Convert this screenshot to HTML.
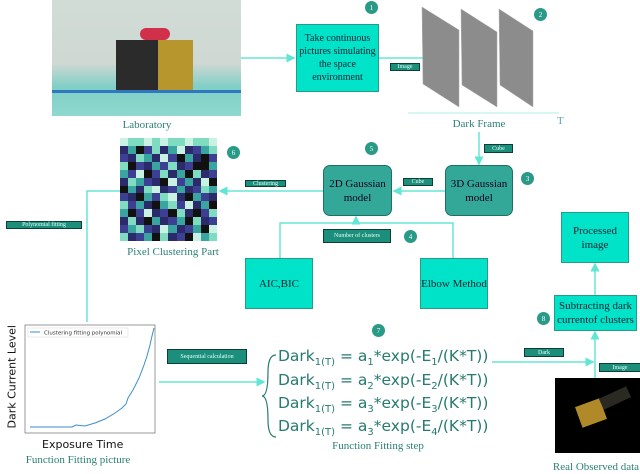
<!DOCTYPE html>
<html><head><meta charset="utf-8"><style>
*{margin:0;padding:0;box-sizing:border-box}
body{width:640px;height:474px;background:#fff;position:relative;overflow:hidden;font-family:"Liberation Serif",serif}
.a{position:absolute}
.box{position:absolute;background:#00e3c9;border:1px solid #2a9a88;color:#123;display:flex;align-items:center;justify-content:center;text-align:center;font-size:11px;line-height:14px}
.rb{position:absolute;background:#33a898;border:1px solid #1e6f64;border-radius:7px;color:#102;display:flex;align-items:center;justify-content:center;text-align:center;font-size:11px;line-height:14px}
.lb{position:absolute;background:#1b8f7c;border:1px solid #0d3e36;color:#e8fff8;font-size:6px;display:flex;align-items:center;justify-content:center;white-space:nowrap}
.c{position:absolute;width:13px;height:13px;border-radius:50%;background:#2a9a88;color:#fff;font-size:7px;display:flex;align-items:center;justify-content:center}
.t{position:absolute;color:#2a7f74;font-size:11px;white-space:nowrap;transform:translateX(-50%)}
.g{position:absolute;left:120px;top:138px;width:97px;height:103px;display:grid;grid-template-columns:repeat(12,1fr);grid-template-rows:repeat(13,1fr)}
.g i{display:block}
.k{background:#111}.n{background:#2b2b6b}.p{background:#3d3f92}.s{background:#3aa5a0}.m{background:#7fdcc0}.w{background:#c9f2e2}
.eq{position:absolute;left:278px;font-family:"DejaVu Sans",sans-serif;font-size:15.5px;color:#267a70;white-space:nowrap}
.eq sub{font-size:10px}
</style></head><body>
<svg class="a" style="left:0;top:0" width="640" height="474">
<defs><marker id="ar" markerWidth="6" markerHeight="6" refX="5" refY="3" orient="auto"><path d="M0,0L6,3L0,6z" fill="#5fe6d4"/></marker></defs>
<g stroke="#66e6d6" stroke-width="1.5" fill="none">
<line x1="241" y1="58" x2="294" y2="58" marker-end="url(#ar)"/>
<line x1="379" y1="58" x2="440" y2="58" marker-end="url(#ar)"/>
<line x1="479" y1="132" x2="479" y2="164" marker-end="url(#ar)"/>
<line x1="445" y1="191" x2="394" y2="191" marker-end="url(#ar)"/>
<line x1="323" y1="191" x2="220" y2="191" marker-end="url(#ar)"/>
<polyline points="120,191 87,191 87,322"/>
<line x1="356" y1="223" x2="356" y2="217" marker-end="url(#ar)"/>
<polyline points="280,258 280,223 453,223 453,258"/>
<line x1="159" y1="382" x2="264" y2="382" marker-end="url(#ar)"/>
<line x1="492" y1="362" x2="593" y2="362" marker-end="url(#ar)"/>
<line x1="595" y1="378" x2="595" y2="332" marker-end="url(#ar)"/>
<line x1="595" y1="295" x2="595" y2="264" marker-end="url(#ar)"/>
<line x1="408" y1="113" x2="559" y2="113" stroke="#c8f4ee"/>
</g>
<g fill="#8c8c8c" stroke="#aaa" stroke-width=".5">
<polygon points="422,7 459,30 459,107 423,84"/>
<polygon points="461,9 497,32 497,107 462,85"/>
<polygon points="499,9 533,31 533,107 500,85"/>
</g>
<path d="M276,355 Q268,355 268,372 Q268,396 262,396 Q268,396 268,420 Q268,437 276,437" stroke="#267a70" stroke-width="1.2" fill="none"/>
<rect x="25" y="325" width="130" height="108" fill="#fff" stroke="#555" stroke-width=".6"/>
<polyline points="30,427 72,427 76,425 85,426 95,423 105,419 115,413 122,408 126,404 128,398 133,390 139,378 144,365 147,356 150,345 152,336 154,328" fill="none" stroke="#3a8fc8" stroke-width="1"/>
<rect x="28" y="328" width="100" height="9" fill="#fff" stroke="#ccc" stroke-width=".4"/>
<line x1="30" y1="332" x2="40" y2="332" stroke="#3a8fc8"/>
<text x="44" y="334.5" font-family="DejaVu Sans" font-size="5.5" fill="#333">Clustering fitting polynomial</text>
</svg>
<div class="a" style="left:52px;top:0;width:189px;height:116px;background:linear-gradient(#d2dcd6 0%,#cfd8d3 55%,#7fcfc6 75%,#8ed8cf 100%)"></div>
<div class="a" style="left:116px;top:40px;width:42px;height:50px;background:#2b2b2b"></div>
<div class="a" style="left:158px;top:40px;width:35px;height:50px;background:#b8962e"></div>
<div class="a" style="left:140px;top:28px;width:30px;height:12px;background:#d0304a;border-radius:6px"></div>
<div class="a" style="left:52px;top:90px;width:189px;height:3px;background:#2f78c0"></div>
<div class="t" style="left:147px;top:119px">Laboratory</div>
<div class="c" style="left:365px;top:1px">1</div>
<div class="box" style="left:296px;top:24px;width:83px;height:68px;font-size:10px;line-height:13px">Take continuous<br>pictures simulating<br>the space<br>environment</div>
<div class="lb" style="left:390px;top:63px;width:30px;height:8px">Image</div>
<div class="c" style="left:534px;top:8px">2</div>
<div class="a" style="left:557px;top:115px;font-size:11px;color:#5aa">T</div>
<div class="t" style="left:479px;top:118px">Dark Frame</div>
<div class="lb" style="left:484px;top:144px;width:29px;height:9px">Cube</div>
<div class="rb" style="left:445px;top:165px;width:68px;height:51px">3D Gaussian model</div>
<div class="c" style="left:521px;top:172px">3</div>
<div class="rb" style="left:323px;top:165px;width:69px;height:51px">2D Gaussian model</div>
<div class="c" style="left:365px;top:142px">5</div>
<div class="lb" style="left:403px;top:178px;width:30px;height:8px">Cube</div>
<div class="lb" style="left:245px;top:180px;width:41px;height:7px">Clustering</div>
<div class="g">
<i class="w"></i><i class="m"></i><i class="m"></i><i class="w"></i><i class="m"></i><i class="w"></i><i class="m"></i><i class="m"></i><i class="w"></i><i class="m"></i><i class="m"></i><i class="w"></i>
<i class="n"></i><i class="s"></i><i class="k"></i><i class="p"></i><i class="m"></i><i class="n"></i><i class="s"></i><i class="w"></i><i class="n"></i><i class="p"></i><i class="s"></i><i class="m"></i>
<i class="p"></i><i class="n"></i><i class="m"></i><i class="s"></i><i class="n"></i><i class="w"></i><i class="p"></i><i class="k"></i><i class="s"></i><i class="n"></i><i class="k"></i><i class="p"></i>
<i class="m"></i><i class="k"></i><i class="p"></i><i class="n"></i><i class="s"></i><i class="p"></i><i class="m"></i><i class="n"></i><i class="p"></i><i class="k"></i><i class="k"></i><i class="s"></i>
<i class="s"></i><i class="p"></i><i class="w"></i><i class="k"></i><i class="p"></i><i class="m"></i><i class="n"></i><i class="s"></i><i class="k"></i><i class="m"></i><i class="n"></i><i class="p"></i>
<i class="n"></i><i class="m"></i><i class="s"></i><i class="p"></i><i class="n"></i><i class="k"></i><i class="w"></i><i class="p"></i><i class="s"></i><i class="n"></i><i class="w"></i><i class="k"></i>
<i class="k"></i><i class="s"></i><i class="n"></i><i class="m"></i><i class="w"></i><i class="n"></i><i class="p"></i><i class="s"></i><i class="n"></i><i class="p"></i><i class="m"></i><i class="s"></i>
<i class="p"></i><i class="n"></i><i class="k"></i><i class="s"></i><i class="p"></i><i class="m"></i><i class="w"></i><i class="n"></i><i class="k"></i><i class="s"></i><i class="p"></i><i class="n"></i>
<i class="m"></i><i class="p"></i><i class="s"></i><i class="n"></i><i class="k"></i><i class="s"></i><i class="m"></i><i class="p"></i><i class="w"></i><i class="n"></i><i class="s"></i><i class="k"></i>
<i class="s"></i><i class="k"></i><i class="p"></i><i class="w"></i><i class="n"></i><i class="p"></i><i class="k"></i><i class="m"></i><i class="n"></i><i class="k"></i><i class="p"></i><i class="m"></i>
<i class="n"></i><i class="m"></i><i class="n"></i><i class="k"></i><i class="s"></i><i class="n"></i><i class="p"></i><i class="s"></i><i class="k"></i><i class="m"></i><i class="n"></i><i class="p"></i>
<i class="p"></i><i class="s"></i><i class="m"></i><i class="p"></i><i class="n"></i><i class="w"></i><i class="s"></i><i class="n"></i><i class="p"></i><i class="s"></i><i class="k"></i><i class="w"></i>
<i class="m"></i><i class="n"></i><i class="p"></i><i class="s"></i><i class="k"></i><i class="m"></i><i class="n"></i><i class="p"></i><i class="k"></i><i class="w"></i><i class="s"></i><i class="m"></i>
</div>
<div class="c" style="left:227px;top:146px">6</div>
<div class="t" style="left:173px;top:246px">Pixel Clustering Part</div>
<div class="lb" style="left:6px;top:221px;width:76px;height:8px">Polynomial fitting</div>
<div class="lb" style="left:323px;top:229px;width:68px;height:14px">Number of clusters</div>
<div class="c" style="left:404px;top:230px">4</div>
<div class="box" style="left:245px;top:258px;width:68px;height:51px">AIC,BIC</div>
<div class="box" style="left:420px;top:258px;width:68px;height:51px">Elbow Method</div>
<div class="box" style="left:561px;top:212px;width:68px;height:51px">Processed<br>image</div>
<div class="box" style="left:554px;top:295px;width:83px;height:36px">Subtracting dark currentof clusters</div>
<div class="c" style="left:537px;top:312px">8</div>
<div class="c" style="left:372px;top:324px">7</div>
<div class="lb" style="left:167px;top:349px;width:80px;height:15px">Sequential calculation</div>
<div class="lb" style="left:524px;top:348px;width:40px;height:9px">Dark</div>
<div class="lb" style="left:599px;top:363px;width:42px;height:9px">Image</div>
<div class="a" style="left:555px;top:378px;width:85px;height:75px;background:#000"></div>
<div class="a" style="left:578px;top:402px;width:26px;height:22px;background:#b08a28;transform:rotate(-20deg)"></div>
<div class="a" style="left:600px;top:392px;width:30px;height:12px;background:#2a2a22;transform:rotate(-25deg)"></div>
<div class="t" style="left:596px;top:461px">Real Observed data</div>
<div class="eq" style="top:347px">Dark<sub>1(T)</sub> = a<sub>1</sub>*exp(-E<sub>1</sub>/(K*T))</div>
<div class="eq" style="top:371px">Dark<sub>1(T)</sub> = a<sub>2</sub>*exp(-E<sub>2</sub>/(K*T))</div>
<div class="eq" style="top:394px">Dark<sub>1(T)</sub> = a<sub>3</sub>*exp(-E<sub>3</sub>/(K*T))</div>
<div class="eq" style="top:417px">Dark<sub>1(T)</sub> = a<sub>3</sub>*exp(-E<sub>4</sub>/(K*T))</div>
<div class="t" style="left:378px;top:440px">Function Fitting step</div>
<div class="a" style="left:-38px;top:372px;width:100px;font-family:'DejaVu Sans',sans-serif;font-size:11px;color:#111;transform:rotate(-90deg);text-align:center;white-space:nowrap">Dark Current Level</div>
<div class="a" style="left:42px;top:438px;font-family:'DejaVu Sans',sans-serif;font-size:11px;color:#111">Exposure Time</div>
<div class="t" style="left:78px;top:454px">Function Fitting picture</div>
</body></html>
